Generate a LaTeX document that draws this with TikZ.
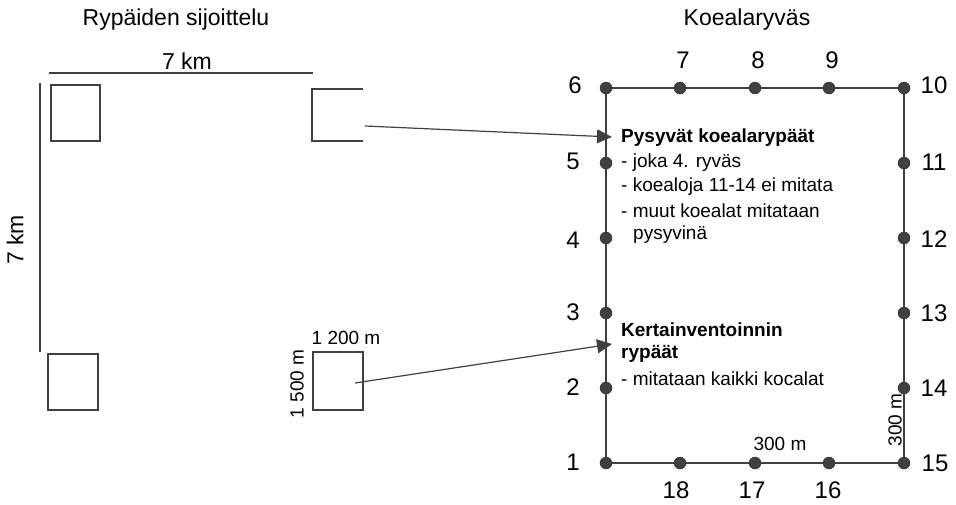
\documentclass[tikz,border=0pt]{standalone}
\usepackage{fontspec}
\setmainfont{Liberation Sans}
\usetikzlibrary{arrows.meta}
\begin{document}
\begin{tikzpicture}[x=1pt,y=-1pt,
  ln/.style={draw=black!75,line width=1.3pt},
  dot/.style={circle,fill=black!75,draw=black!85,inner sep=0pt,minimum size=12pt},
  big/.style={font=\fontsize{23}{26}\selectfont,inner sep=0pt},
  num/.style={font=\fontsize{24}{27}\selectfont,inner sep=0pt},
  txt/.style={font=\fontsize{19}{22}\selectfont,inner sep=0pt,anchor=west},
  btxt/.style={font=\fontsize{19}{22}\selectfont\bfseries,inner sep=0pt,anchor=west},
  sm/.style={font=\fontsize{19}{22}\selectfont,inner sep=0pt},
  arr/.style={draw=black!75,line width=1.2pt,-{Triangle[length=15pt,width=14pt]}}]
\useasboundingbox (0,0) rectangle (956,504);
% left part
\node[big] (t1) at (176,20) {Rypäiden sijoittelu};
\node[big] (km1) at (187,61) {7 km};
\coordinate (h1) at (49,73); \coordinate (h2) at (313,73);
\draw[ln] (h1) -- (h2);
\coordinate (v1) at (40,83); \coordinate (v2) at (40,352);
\draw[ln] (v1) -- (v2);
\node[big,rotate=90] (km2) at (15,240) {7 km};
\draw[ln] (51,85) rectangle (100,141);
\draw[ln] (48,354) rectangle (98,410);
\draw[ln] (363,89) -- (312,89) -- (312,141) -- (363,141);
\coordinate (a1) at (365,126);
\draw[ln] (313,352) rectangle (363,410);
\coordinate (a2) at (355,383);
\node[sm] (w) at (346,338) {1 200 m};
\node[sm,rotate=90] (h) at (297,384) {1 500 m};
% right part
\node[big] (t2) at (747,20) {Koealaryväs};
\foreach \n/\x/\y in {1/606/463,2/606/388,3/606/313,4/606/238,5/606/163,6/606/88,
  7/680/88,8/755/88,9/829/88,10/904/88,11/904/163,12/904/238,13/904/313,14/904/388,
  15/904/463,16/829/463,17/755/463,18/680/463}
  \coordinate (c\n) at (\x,\y);
\draw[ln] (c1) -- (c6) -- (c10) -- (c15) -- cycle;
\foreach \n in {1,...,18} \node[dot] (p\n) at (c\n) {};
\foreach \n/\x/\y in {1/573/462,2/573/387,3/573/312,4/573/240,5/573/161,6/575/85}
  \node[num] (l\n) at (\x,\y) {\n};
\foreach \n/\x/\y in {7/683/60,8/758/60,9/832/60}
  \node[num] (l\n) at (\x,\y) {\n};
\foreach \n/\x/\y in {10/934/85,11/934/162,12/934/239,13/934/313,14/934/388,15/935/463}
  \node[num] (l\n) at (\x,\y) {\n};
\foreach \n/\x/\y in {16/828/490,17/752/490,18/676/490}
  \node[num] (l\n) at (\x,\y) {\n};
\node[sm] (d1) at (780,444) {300 m};
\node[sm,rotate=90] (d2) at (895,420) {300 m};
% text blocks
\node[btxt] (b1) at (621,138) {Pysyvät koealarypäät};
\node[txt] (b2) at (621,163) {- joka 4. ryväs};
\node[txt] (b3) at (621,187) {- koealoja 11-14 ei mitata};
\node[txt] (b4) at (621,211) {- muut koealat mitataan};
\node[txt] (b5) at (633,235) {pysyvinä};
\node[btxt] (k1) at (621,330) {Kertainventoinnin};
\node[btxt] (k2) at (621,354) {rypäät};
\node[txt] (k3) at (621,379) {- mitataan kaikki kocalat};
\coordinate (e1) at (612,137);
\coordinate (e2) at (612,344);
\draw[arr] (a1) -- (e1);
\draw[arr] (a2) -- (e2);
\end{tikzpicture}
\end{document}
